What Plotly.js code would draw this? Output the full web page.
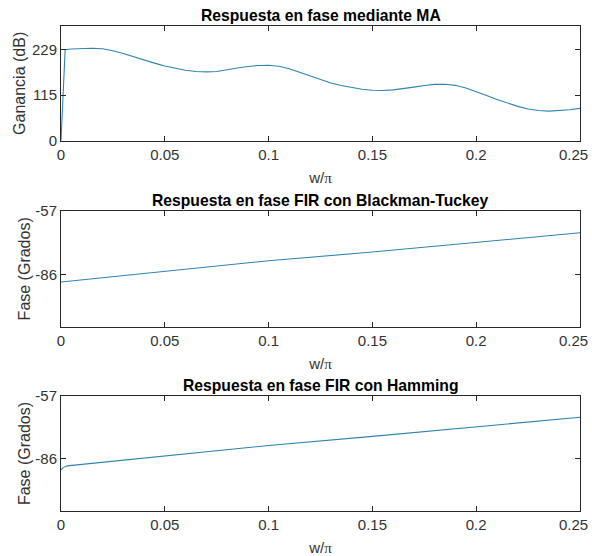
<!DOCTYPE html>
<html>
<head>
<meta charset="utf-8">
<script src="https://cdn.plot.ly/plotly-3.0.1.min.js"></script>
<style>
html,body{margin:0;padding:0;background:#fff;}
#chart{width:592px;height:556px;}
</style>
</head>
<body>
<div id="chart"></div>
<script>
// ---- Data ----
var wMA = [0, 0.002, 0.005, 0.01, 0.015, 0.02, 0.025, 0.03, 0.035, 0.04, 0.045, 0.05, 0.055, 0.06, 0.065, 0.07, 0.075, 0.08, 0.085, 0.09, 0.095, 0.1, 0.105, 0.11, 0.115, 0.12, 0.125, 0.13, 0.135, 0.14, 0.145, 0.15, 0.155, 0.16, 0.165, 0.17, 0.175, 0.18, 0.185, 0.19, 0.195, 0.2, 0.205, 0.21, 0.215, 0.22, 0.225, 0.23, 0.235, 0.24, 0.245, 0.25];
var gainMA = [0, 229, 231, 232.5, 233, 231.5, 226.5, 219.5, 211, 203, 195.5, 188, 182, 177.5, 174.5, 173.5, 174.5, 178, 183, 187, 189.5, 190, 187.5, 181.5, 172.5, 162.5, 153, 145.5, 139, 133.5, 129.5, 127, 126.5, 128, 131, 135, 139, 141.8, 142.3, 139.5, 133, 124, 114, 104, 95, 86.5, 80, 76, 74.5, 75.5, 78, 81.5];

var wBT = [0, 0.05, 0.1, 0.15, 0.2, 0.25];
var phaseBT = [-89.5, -84.8, -79.8, -75.8, -71.4, -67];

var wHam = [0, 0.001, 0.003, 0.05, 0.1, 0.15, 0.2, 0.25];
var phaseHam = [-91, -90, -89.2, -84.7, -79.8, -75.6, -71.2, -66.8];

var titles = ['Respuesta en fase mediante MA', 'Respuesta en fase FIR con Blackman-Tuckey', 'Respuesta en fase FIR con Hamming'];
var yTitles = ['Ganancia (dB)', 'Fase (Grados)', 'Fase (Grados)'];
var xTitle = 'w/<span style="font-family:\'Liberation Serif\', \'Times New Roman\', serif">\u03c0</span>';
var xTicks = [0, 0.05, 0.1, 0.15, 0.2, 0.25];
var xTickText = ['0', '0.05', '0.1', '0.15', '0.2', ''];   // last label drawn below so it stays inside the page
var xLastTick = 0.25;
var xLastTickText = '0.25';
var yTicksMA = [0, 115, 229];
var yTickTextMA = ['0', '115', '229'];
var yTicksPhase = [-86, -57];
var yTickTextPhase = ['-86', '-57'];

// ---- Style ----
var lineColor = '#2f84ae';
var axColor = '#262626';
var tickColor = '#333333';
var fontFam = '"Liberation Sans", Arial, Helvetica, sans-serif';
var domains = [[0.7635, 1], [0.380, 0.6186], [0, 0.2371]];
var yStandoffs = [2, 0, 0];

var traces = [
  {x: wMA, y: gainMA, xaxis: 'x', yaxis: 'y'},
  {x: wBT, y: phaseBT, xaxis: 'x2', yaxis: 'y2'},
  {x: wHam, y: phaseHam, xaxis: 'x3', yaxis: 'y3'}
].map(function(t){
  t.type = 'scatter'; t.mode = 'lines';
  t.line = {color: lineColor, width: 1.1};
  t.showlegend = false; t.hoverinfo = 'skip';
  return t;
});

function xAx(i){
  return {
    domain: [0, 1], anchor: i === 0 ? 'y' : 'y' + (i + 1),
    range: [0, 0.25], tickvals: xTicks, ticktext: xTickText,
    ticks: 'inside', ticklen: 5, tickcolor: axColor, tickwidth: 1,
    showline: true, mirror: 'ticks', linecolor: axColor, linewidth: 1,
    showgrid: false, zeroline: false,
    tickfont: {family: fontFam, size: 15, color: tickColor},
    title: {text: xTitle, font: {family: fontFam, size: 15, color: tickColor}, standoff: 10}
  };
}
function yAx(i, range, ticks, tickText){
  return {
    domain: domains[i], anchor: i === 0 ? 'x' : 'x' + (i + 1),
    range: range, tickvals: ticks, ticktext: tickText,
    ticks: 'inside', ticklen: 5, tickcolor: axColor, tickwidth: 1,
    showline: true, mirror: 'ticks', linecolor: axColor, linewidth: 1,
    showgrid: false, zeroline: false,
    tickfont: {family: fontFam, size: 15, color: tickColor},
    title: {text: yTitles[i], font: {family: fontFam, size: 16, color: tickColor}, standoff: yStandoffs[i]}
  };
}

var annotations = titles.map(function(t, i){
  return {
    text: '<b>' + t + '</b>', xref: 'paper', yref: 'paper',
    x: 0.5, y: domains[i][1], xanchor: 'center', yanchor: 'bottom',
    showarrow: false, yshift: 0,
    font: {family: fontFam, size: 15.7, color: '#000'}
  };
});
['x', 'x2', 'x3'].forEach(function(xr, i){
  annotations.push({
    text: xLastTickText, xref: xr, yref: 'paper',
    x: xLastTick, y: domains[i][0], xanchor: 'right', yanchor: 'top',
    xshift: 10, yshift: -3, showarrow: false,
    font: {family: fontFam, size: 15, color: tickColor}
  });
});

var layout = {
  width: 592, height: 556,
  margin: {l: 61, r: 12, t: 26, b: 45, pad: 0},
  paper_bgcolor: '#fff', plot_bgcolor: '#fff',
  xaxis: xAx(0), xaxis2: xAx(1), xaxis3: xAx(2),
  yaxis: yAx(0, [0, 289], yTicksMA, yTickTextMA),
  yaxis2: yAx(1, [-110, -57], yTicksPhase, yTickTextPhase),
  yaxis3: yAx(2, [-110, -57], yTicksPhase, yTickTextPhase),
  annotations: annotations
};

Plotly.newPlot('chart', traces, layout, {displayModeBar: false, staticPlot: true});
</script>
</body>
</html>
